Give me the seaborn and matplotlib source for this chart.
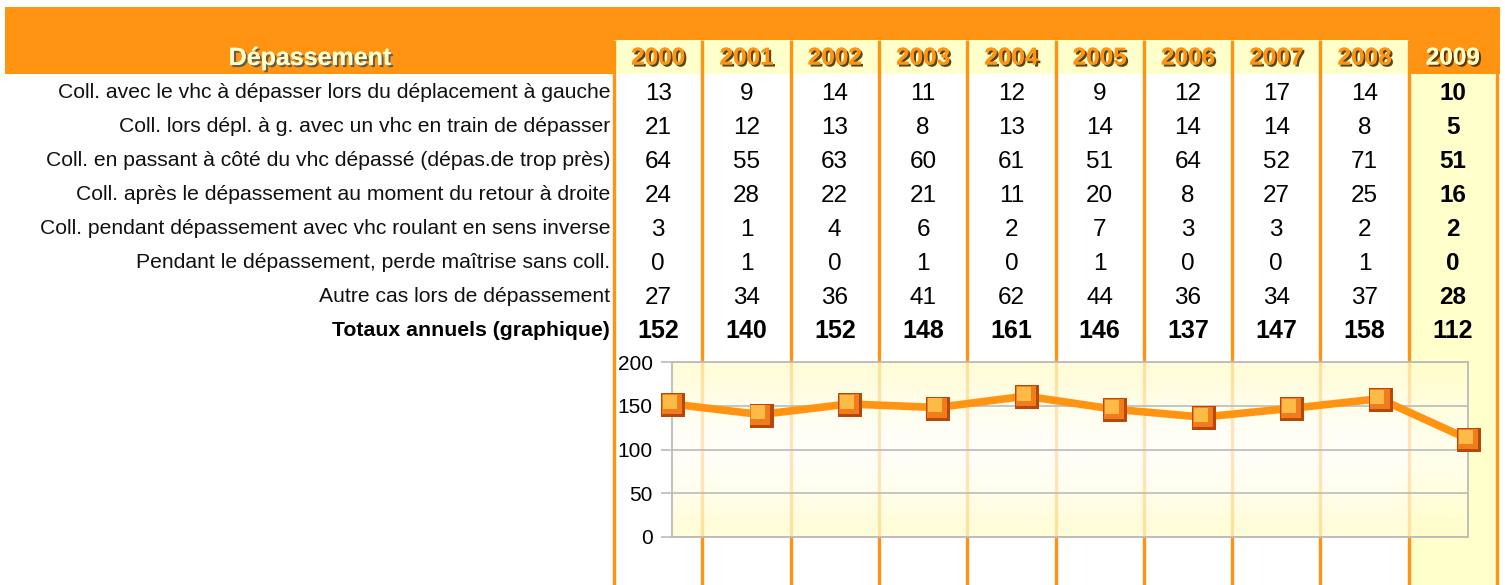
import numpy as np
import pandas as pd
import matplotlib
matplotlib.use('Agg')
import matplotlib.pyplot as plt
import matplotlib.patheffects as pe
import matplotlib.transforms as mtransforms
from matplotlib.patches import Rectangle
import seaborn as sns

# --- data ---
years = ['2000', '2001', '2002', '2003', '2004', '2005', '2006', '2007', '2008', '2009']
row_labels = [
    "Coll. avec le vhc à dépasser lors du déplacement à gauche",
    "Coll. lors dépl. à g. avec un vhc en train de dépasser",
    "Coll. en passant à côté du vhc dépassé (dépas.de trop près)",
    "Coll. après le dépassement au moment du retour à droite",
    "Coll. pendant dépassement avec vhc roulant en sens inverse",
    "Pendant le dépassement, perde maîtrise sans coll.",
    "Autre cas lors de dépassement",
]
total_label = "Totaux annuels (graphique)"
coll_gauche = [13, 9, 14, 11, 12, 9, 12, 17, 14, 10]
coll_depl_g = [21, 12, 13, 8, 13, 14, 14, 14, 8, 5]
coll_cote = [64, 55, 63, 60, 61, 51, 64, 52, 71, 51]
coll_retour = [24, 28, 22, 21, 11, 20, 8, 27, 25, 16]
coll_inverse = [3, 1, 4, 6, 2, 7, 3, 3, 2, 2]
perte_maitrise = [0, 1, 0, 1, 0, 1, 0, 0, 1, 0]
autre_cas = [27, 34, 36, 41, 62, 44, 36, 34, 37, 28]
totaux = [152, 140, 152, 148, 161, 146, 137, 147, 158, 112]

rows = [coll_gauche, coll_depl_g, coll_cote, coll_retour, coll_inverse, perte_maitrise, autre_cas]

orange = '#FF9412'
light = '#FFFFCC'

sns.set_theme(style='white')
plt.rcParams['font.family'] = ['Liberation Sans', 'DejaVu Sans']

fig = plt.figure(figsize=(15.05, 5.85), dpi=100)

# background "table" axes in pixel coordinates
bg = fig.add_axes([0, 0, 1, 1])
bg.set_xlim(0, 1505)
bg.set_ylim(585, 0)
bg.axis('off')

col_x0 = 614
col_w = 88.3
n = len(years)
edges = [col_x0 + i * col_w for i in range(n + 1)]
centers = [col_x0 + (i + 0.5) * col_w for i in range(n)]

bg.add_patch(Rectangle((5, 7), 1495, 67, color=orange, lw=0))
for i in range(n - 1):
    bg.add_patch(Rectangle((edges[i], 40), col_w, 34, color=light, lw=0))
bg.add_patch(Rectangle((edges[n - 1], 74), col_w, 585 - 74, color=light, lw=0))
bg.vlines(edges, 40, 585, color=orange, lw=2.4)

shadow = [pe.withSimplePatchShadow(offset=(1.5, -1.5), shadow_rgbFace='#4a3000', alpha=0.9), pe.Normal()]
bg.text(310, 58, 'Dépassement', ha='center', va='center', fontsize=18,
        fontweight='bold', color=light,
        path_effects=[pe.withSimplePatchShadow(offset=(1.5, -1.5), shadow_rgbFace='#555555', alpha=0.9), pe.Normal()])
for i, y in enumerate(years):
    bg.text(centers[i], 58, y, ha='center', va='center', fontsize=17.5, fontweight='bold',
            color=light if i == n - 1 else orange, path_effects=shadow)

row_y0 = 93
row_h = 34.0
for r, (lab, vals) in enumerate(zip(row_labels, rows)):
    yy = row_y0 + r * row_h
    bg.text(610, yy, lab, ha='right', va='center', fontsize=15.2, color='#111111')
    for i, v in enumerate(vals):
        bg.text(centers[i], yy + 6.5, str(v), ha='center', va='baseline', fontsize=17.5,
                fontweight='bold' if i == n - 1 else 'normal', color='black')
yy = row_y0 + len(rows) * row_h
bg.text(610, yy, total_label, ha='right', va='center', fontsize=15.3, fontweight='bold', color='black')
for i, v in enumerate(totaux):
    bg.text(centers[i], yy + 6.5, str(v), ha='center', va='baseline', fontsize=18, fontweight='bold', color='black')

# line chart
df = pd.DataFrame({'annee': [int(y) for y in years], 'total': totaux})
ax = fig.add_axes([672 / 1505, (585 - 537) / 585, 796 / 1505, 175 / 585])
ax.set_facecolor('none')
grad = np.array([[1.0, 0.99, 0.80], [1.0, 1.0, 0.93], [1.0, 1.0, 0.98], [1.0, 1.0, 0.93], [1.0, 0.99, 0.80]])
ax.imshow(grad[:, None, :], extent=[0, 1, 0, 1], transform=ax.transAxes,
          aspect='auto', interpolation='bicubic', alpha=0.75, zorder=0)
ax.set_xlim(2000, 2009)
ax.set_ylim(0, 200)
ax.set_yticks([0, 50, 100, 150, 200])
ax.set_xticks([])
ax.yaxis.grid(True, color='#BBBBBB', lw=1.2, zorder=1)
ax.set_axisbelow(True)
for s in ax.spines.values():
    s.set_color('#BBBBBB')
    s.set_linewidth(1.3)
ax.tick_params(axis='y', left=True, length=8, width=1.2, color='#BBBBBB',
               labelsize=15, pad=6, labelcolor='black')

sns.lineplot(data=df, x='annee', y='total', ax=ax, color=orange, lw=5.5, zorder=3)
base = mtransforms.offset_copy(ax.transData, fig=fig, x=0.8, y=-0.8, units='points')
high = mtransforms.offset_copy(ax.transData, fig=fig, x=-1.5, y=1.5, units='points')
sns.scatterplot(data=df, x='annee', y='total', ax=ax, marker='s', s=280, color='#B8480A',
                linewidth=0, transform=base, clip_on=False, zorder=4)
sns.scatterplot(data=df, x='annee', y='total', ax=ax, marker='s', s=220, color='#F07C1C',
                linewidth=0, clip_on=False, zorder=5)
sns.scatterplot(data=df, x='annee', y='total', ax=ax, marker='s', s=90, color='#FFC64E',
                linewidth=0, transform=high, clip_on=False, zorder=6, alpha=0.85)
ax.set_xlabel('')
ax.set_ylabel('')

fig.savefig('out.png', dpi=100)
